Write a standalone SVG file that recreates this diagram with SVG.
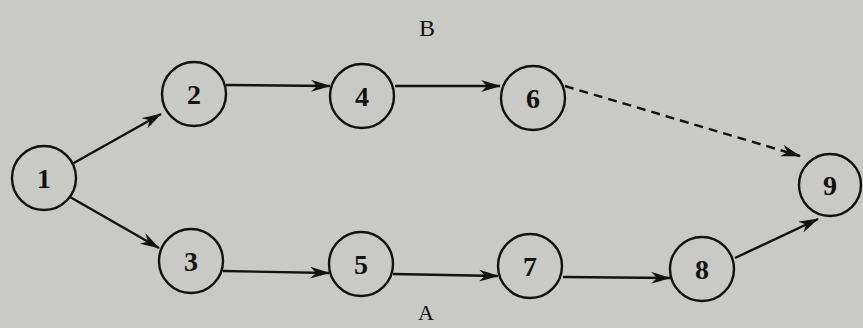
<svg xmlns="http://www.w3.org/2000/svg" width="863" height="328" viewBox="0 0 863 328">
<defs>
<marker id="ah" viewBox="0 0 20 12" refX="19" refY="6" markerWidth="20" markerHeight="12" markerUnits="userSpaceOnUse" orient="auto">
<path d="M0,0 L20,6 L0,12 L6,6 z" fill="#111"/>
</marker>
<style>
.n circle{fill:none;stroke:#111;stroke-width:2.4}
.n text{font-family:"Liberation Serif",serif;font-weight:bold;font-size:28px;fill:#111;text-anchor:middle}
.e{stroke:#111;stroke-width:2.4;fill:none;marker-end:url(#ah)}
.d{stroke-dasharray:9,6}
.lbl{font-family:"Liberation Serif",serif;font-size:24px;fill:#111;text-anchor:middle}
</style>
</defs>
<rect width="863" height="328" fill="#c9c9c6"/>
<g id="connectors">
<path class="e" d="M72,164 L161,114"/>
<path class="e" d="M70,197 L159,248"/>
<path class="e" d="M226,85 L330,86"/>
<path class="e" d="M395,86 L500,86"/>
<path class="e d" d="M565,86 L800,156"/>
<path class="e" d="M223,271 L329,273"/>
<path class="e" d="M393,274 L498,276"/>
<path class="e" d="M563,277 L670,278"/>
<path class="e" d="M735,258 L818,219"/>
</g>
<g id="n1" class="n"><circle cx="44" cy="178" r="32"/><text x="44" y="188">1</text></g>
<g id="n2" class="n"><circle cx="194" cy="94" r="32"/><text x="194" y="104">2</text></g>
<g id="n3" class="n"><circle cx="191" cy="261" r="32"/><text x="191" y="271">3</text></g>
<g id="n4" class="n"><circle cx="362" cy="96" r="32"/><text x="362" y="106">4</text></g>
<g id="n5" class="n"><circle cx="361" cy="264" r="32"/><text x="361" y="274">5</text></g>
<g id="n6" class="n"><circle cx="533" cy="98" r="32"/><text x="533" y="108">6</text></g>
<g id="n7" class="n"><circle cx="530" cy="266" r="32"/><text x="530" y="276">7</text></g>
<g id="n8" class="n"><circle cx="702" cy="269" r="32"/><text x="702" y="279">8</text></g>
<g id="n9" class="n"><circle cx="830" cy="185" r="31"/><text x="830" y="195">9</text></g>
<text class="lbl" x="427" y="36">B</text>
<text class="lbl" x="426" y="320" style="font-size:22px">A</text>
</svg>
